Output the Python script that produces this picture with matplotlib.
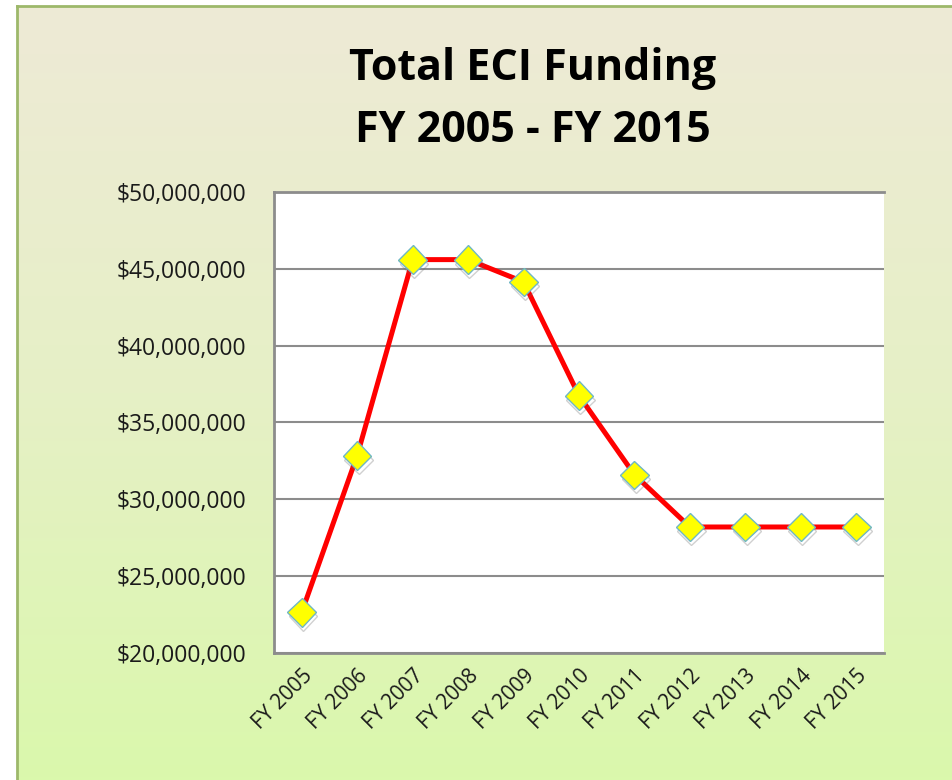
import numpy as np
import matplotlib
matplotlib.use("Agg")
import matplotlib.pyplot as plt
from matplotlib.ticker import FuncFormatter
import matplotlib.patheffects as pe
import matplotlib.transforms as mtrans
from matplotlib.colors import LinearSegmentedColormap

years = ["FY 2005", "FY 2006", "FY 2007", "FY 2008", "FY 2009", "FY 2010",
         "FY 2011", "FY 2012", "FY 2013", "FY 2014", "FY 2015"]
funding = [22_650_000, 32_850_000, 45_600_000, 45_600_000, 44_150_000, 36_750_000,
           31_600_000, 28_200_000, 28_200_000, 28_200_000, 28_200_000]
y_ticks = [20_000_000, 25_000_000, 30_000_000, 35_000_000, 40_000_000, 45_000_000, 50_000_000]

plt.rcParams['font.family'] = ['Open Sans', 'DejaVu Sans']

W, H = 952, 780
fig = plt.figure(figsize=(W / 100, H / 100), dpi=100)
fig.patch.set_facecolor('white')

# gradient background of the chart area (beige at top -> light green at bottom)
bg = fig.add_axes([17 / W, 0, 1 - 17 / W, 1 - 6 / H], zorder=-2)
cmap = LinearSegmentedColormap.from_list('bg', ['#EEEAD6', '#E6F0C6', '#DAF8AC'])
grad = np.linspace(0, 1, 256).reshape(-1, 1)
bg.imshow(grad, cmap=cmap, aspect='auto', extent=[0, 1, 0, 1], origin='upper')
bg.set_xticks([])
bg.set_yticks([])
for side in ['right', 'bottom']:
    bg.spines[side].set_visible(False)
for side in ['left', 'top']:
    bg.spines[side].set_color('#9DB86A')
    bg.spines[side].set_linewidth(2)

# title
fig.text(533 / W, 1 - 68 / H, 'Total ECI Funding', ha='center', va='center',
         fontsize=31, fontweight='bold', color='black')
fig.text(533 / W, 1 - 130 / H, 'FY 2005 - FY 2015', ha='center', va='center',
         fontsize=31, fontweight='bold', color='black')

ax = fig.add_axes([274 / W, 1 - 653 / H, 610 / W, 461 / H])
ax.patch.set_facecolor('white')

x = np.arange(len(years))
ax.plot(x, funding, color='red', linewidth=3.6, zorder=3, solid_joinstyle='round')
ax.plot(x, funding, linestyle='none', marker='D', markersize=14.5,
        markerfacecolor='#FFFF00', markeredgecolor='#6FB7C4', markeredgewidth=1,
        zorder=4,
        path_effects=[pe.SimpleLineShadow(offset=(1, -3), shadow_color='#666666', alpha=0.3),
                      pe.Normal()])

ax.set_xlim(-0.5, len(years) - 0.5)
ax.set_ylim(20_000_000, 50_000_000)
ax.set_yticks(y_ticks)
ax.yaxis.set_major_formatter(FuncFormatter(lambda v, p: f'${v:,.0f}'))
ax.grid(axis='y', color='#8C8C8C', linewidth=1.5)
ax.set_axisbelow(True)
ax.set_xticks(x)
ax.set_xticklabels(years, rotation=45, ha='right', va='top', rotation_mode='anchor')
shift = mtrans.ScaledTranslation(5 / 100, 0, fig.dpi_scale_trans)
for lbl in ax.get_xticklabels():
    lbl.set_transform(lbl.get_transform() + shift)
ax.tick_params(axis='y', length=0, pad=20, labelsize=16.5, labelcolor='#1a1a1a')
ax.tick_params(axis='x', length=0, pad=9, labelsize=15, labelcolor='#1a1a1a')
for side in ['left', 'bottom', 'top']:
    ax.spines[side].set_color('#8C8C8C')
    ax.spines[side].set_linewidth(2)
ax.spines['right'].set_visible(False)

fig.savefig('out.png', dpi=100)
